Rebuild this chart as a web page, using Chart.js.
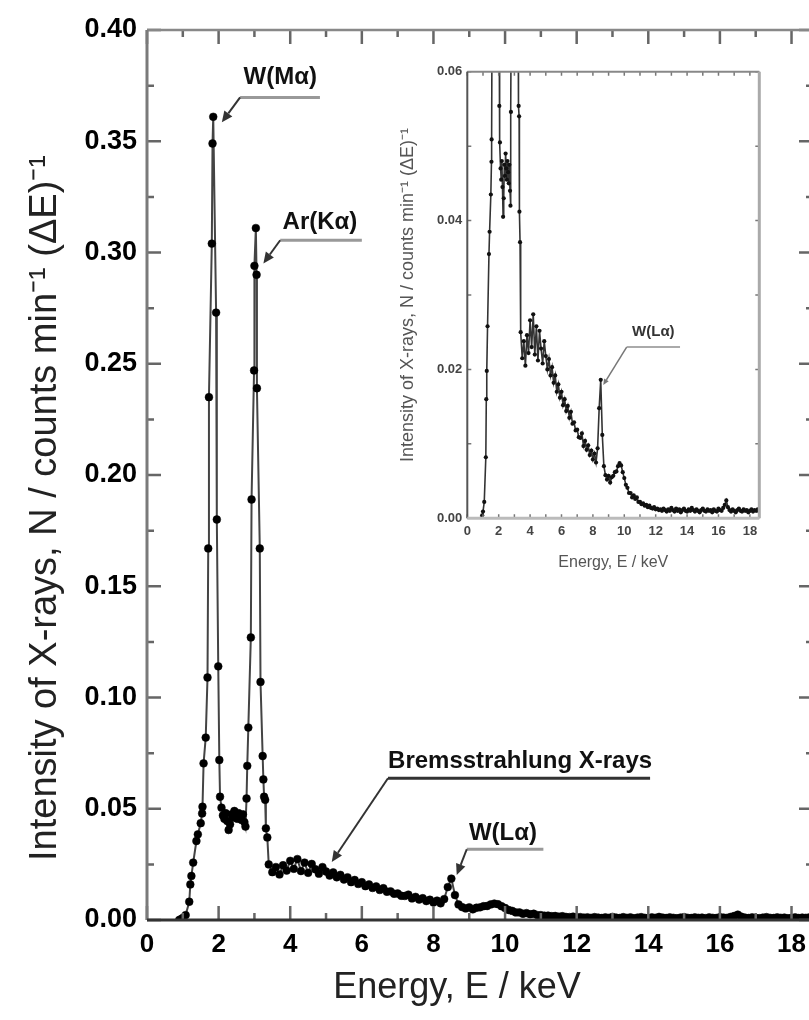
<!DOCTYPE html>
<html>
<head>
<meta charset="utf-8">
<script src="https://cdn.jsdelivr.net/npm/chart.js@4/dist/chart.umd.min.js"></script>
<style>
    html, body { margin: 0; padding: 0; background: #fff; overflow: hidden; width: 809px; height: 1020px; }
    #wrap { position: relative; width: 822px; height: 1020px; }
    #main { position: absolute; left: 0; top: 0; }
    #inset { position: absolute; left: 380px; top: 40px; }
</style>
</head>
<body>
<div id="wrap">
    <canvas id="main" width="822" height="1020"></canvas>
    <canvas id="inset" width="400" height="560"></canvas>
</div>
<script>
// Espectro: zona de picos W(Ma) y Ar(Ka), energia en keV
const peakEnergy = [0.90, 0.95, 1.00, 1.08, 1.18, 1.21, 1.24, 1.29, 1.38, 1.42, 1.50, 1.54, 1.55, 1.58, 1.64, 1.69,
    1.71, 1.73, 1.81, 1.83, 1.85, 1.93, 1.95, 1.99, 2.02, 2.04,
    2.08, 2.12, 2.16, 2.20, 2.24, 2.28, 2.32, 2.36, 2.40, 2.44, 2.48, 2.52, 2.56, 2.60, 2.64, 2.68, 2.72, 2.75,
    2.78, 2.80, 2.83, 2.90, 2.92, 2.99, 3.00, 3.04, 3.06, 3.07, 3.15, 3.17, 3.23, 3.25, 3.27, 3.30, 3.32, 3.36];
const peakIntensity = [0.0000, 0.0004, 0.0009, 0.0022, 0.0082, 0.0160, 0.0198, 0.0258, 0.0355, 0.0385, 0.0435, 0.0479, 0.0509, 0.0704, 0.0820, 0.109,
    0.167, 0.235, 0.304, 0.349, 0.361, 0.273, 0.180, 0.114, 0.0719, 0.0554,
    0.0505, 0.0470, 0.0455, 0.0480, 0.0445, 0.0405, 0.0430, 0.0475, 0.0460, 0.0490, 0.0470, 0.0455, 0.0480, 0.0465, 0.0450, 0.0475, 0.0440, 0.0420,
    0.0546, 0.0693, 0.0865, 0.127, 0.189, 0.247, 0.294, 0.311, 0.290, 0.239, 0.167, 0.107, 0.0737, 0.0632, 0.0554, 0.0540, 0.0412, 0.0371];

// Espectro: fondo de Bremsstrahlung y W(La)
const tailEnergy = [3.4, 3.5, 3.6, 3.7, 3.8, 3.9, 4.0, 4.1, 4.2, 4.3, 4.4, 4.5, 4.6, 4.7, 4.8, 4.9,
    5.0, 5.1, 5.2, 5.3, 5.4, 5.5, 5.6, 5.7, 5.8, 5.9, 6.0, 6.1, 6.2, 6.3, 6.4, 6.5, 6.6, 6.7, 6.8, 6.9,
    7.0, 7.1, 7.2, 7.3, 7.4, 7.5, 7.6, 7.7, 7.8, 7.9, 8.0, 8.1, 8.2, 8.3, 8.4, 8.5, 8.6, 8.7, 8.8, 8.9,
    9.0, 9.1, 9.2, 9.3, 9.4, 9.5, 9.6, 9.7, 9.8, 9.9, 10.0, 10.1, 10.2, 10.3, 10.4, 10.5, 10.6, 10.7, 10.8, 10.9,
    11.0, 11.1, 11.2, 11.3, 11.4, 11.5, 11.6, 11.7, 11.8, 11.9, 12.0, 12.1, 12.2, 12.3, 12.4, 12.5, 12.6, 12.7, 12.8, 12.9,
    13.0, 13.1, 13.2, 13.3, 13.4, 13.5, 13.6, 13.7, 13.8, 13.9, 14.0, 14.1, 14.2, 14.3, 14.4, 14.5, 14.6, 14.7, 14.8, 14.9,
    15.0, 15.1, 15.2, 15.3, 15.4, 15.5, 15.6, 15.7, 15.8, 15.9, 16.0, 16.1, 16.2, 16.3, 16.4, 16.5, 16.6, 16.7, 16.8, 16.9,
    17.0, 17.1, 17.2, 17.3, 17.4, 17.5, 17.6, 17.7, 17.8, 17.9, 18.0, 18.1, 18.2, 18.3, 18.4, 18.5, 18.6];
const tailIntensity = [0.0250, 0.0215, 0.0238, 0.0205, 0.0246, 0.0222, 0.0266, 0.0230, 0.0274, 0.0220, 0.0258, 0.0212, 0.0252, 0.0228, 0.0208, 0.0238,
    0.0218, 0.0200, 0.0214, 0.0192, 0.0203, 0.0182, 0.0192, 0.0170, 0.0180, 0.0162, 0.0170, 0.0152, 0.0160, 0.0144, 0.0151, 0.0135, 0.0143, 0.0127, 0.0129, 0.0118,
    0.0119, 0.0109, 0.0108, 0.0114, 0.0097, 0.0104, 0.0092, 0.0098, 0.0085, 0.0091, 0.0079, 0.0087, 0.0075, 0.0094, 0.0148, 0.0186, 0.0112, 0.0070, 0.0058, 0.0052,
    0.0057, 0.0048, 0.0055, 0.0057, 0.0062, 0.0063, 0.0070, 0.0074, 0.0071, 0.0062, 0.0054, 0.0045, 0.0041, 0.0034, 0.0034, 0.0028, 0.0031, 0.0026, 0.0028, 0.0022,
    0.0022, 0.0019, 0.0020, 0.0017, 0.0018, 0.0015, 0.0017, 0.0014, 0.0013, 0.0015, 0.0012, 0.0013, 0.0011, 0.0012, 0.0010, 0.0013, 0.0011, 0.0009, 0.0012, 0.0010,
    0.0014, 0.0011, 0.0009, 0.0013, 0.0010, 0.0012, 0.0008, 0.0011, 0.0013, 0.0010, 0.0009, 0.0012, 0.0010, 0.0014, 0.0011, 0.0009, 0.0012, 0.0010, 0.0008, 0.0011,
    0.0013, 0.0010, 0.0009, 0.0012, 0.0010, 0.0011, 0.0008, 0.0012, 0.0010, 0.0009, 0.0013, 0.0011, 0.0010, 0.0014, 0.0018, 0.0024, 0.0015, 0.0011, 0.0009, 0.0012,
    0.0010, 0.0008, 0.0011, 0.0013, 0.0010, 0.0009, 0.0012, 0.0010, 0.0011, 0.0008, 0.0010, 0.0012, 0.0009, 0.0011, 0.0010, 0.0012, 0.0009];

const FONT = "'Liberation Sans', Arial, sans-serif";
const X_TITLE = 'Energy, E / keV';
const Y_TITLE = 'Intensity of X-rays, N / counts min\u207B\u00B9 (\u0394E)\u207B\u00B9';

const spectrum = peakEnergy.map((e, i) => ({ x: e, y: peakIntensity[i] }))
    .concat(tailEnergy.map((e, i) => ({ x: e, y: tailIntensity[i] })));

// Marco y marcas hacia dentro en los cuatro lados
function makeFrame(cfg) {
    return {
        id: 'frame',
        afterDatasetsDraw(chart) {
            const { ctx, chartArea: a, scales: { x, y } } = chart;
            ctx.save();
            ctx.strokeStyle = cfg.tickColor;
            ctx.lineWidth = cfg.tickWidth;
            ctx.beginPath();
            for (let i = 0; i * cfg.xMinor <= x.max + 1e-9; i++) {
                const v = i * cfg.xMinor;
                const len = (Math.round(v / cfg.xMajor * 1000) % 1000 === 0) ? cfg.major : cfg.minor;
                const px = x.getPixelForValue(v);
                ctx.moveTo(px, a.bottom); ctx.lineTo(px, a.bottom - len);
                ctx.moveTo(px, a.top); ctx.lineTo(px, a.top + len);
            }
            for (let i = 0; i * cfg.yMinor <= y.max + 1e-9; i++) {
                const v = i * cfg.yMinor;
                const len = (Math.round(v / cfg.yMajor * 1000) % 1000 === 0) ? cfg.major : cfg.minor;
                const py = y.getPixelForValue(v);
                ctx.moveTo(a.left, py); ctx.lineTo(a.left + len, py);
                ctx.moveTo(a.right, py); ctx.lineTo(a.right - len, py);
            }
            ctx.stroke();

            const side = (s, x1, y1, x2, y2) => {
                ctx.strokeStyle = s[0];
                ctx.lineWidth = s[1];
                ctx.beginPath(); ctx.moveTo(x1, y1); ctx.lineTo(x2, y2); ctx.stroke();
            };
            side(cfg.top, a.left, a.top, a.right, a.top);
            side(cfg.right, a.right, a.top, a.right, a.bottom);
            side(cfg.left, a.left, a.top, a.left, a.bottom);
            side(cfg.bottom, a.left, a.bottom, a.right, a.bottom);
            ctx.restore();
        }
    };
}

// Titulos de ejes colocados a mano (el original no esta centrado)
function makeTitles(cfg) {
    return {
        id: 'titles',
        afterDraw(chart) {
            const ctx = chart.ctx;
            ctx.save();
            ctx.fillStyle = cfg.color;
            ctx.font = cfg.size + 'px ' + FONT;
            ctx.textAlign = 'center';
            ctx.textBaseline = 'middle';
            ctx.fillText(X_TITLE, cfg.x[0], cfg.x[1]);
            ctx.translate(cfg.y[0], cfg.y[1]);
            ctx.rotate(-Math.PI / 2);
            ctx.font = cfg.ySize + 'px ' + FONT;
            ctx.fillText(Y_TITLE, 0, 0);
            ctx.restore();
        }
    };
}

// Etiquetas con subrayado y flecha
function makeCallouts(items) {
    return {
        id: 'callouts',
        afterDatasetsDraw(chart) {
            const { ctx, scales: { x, y } } = chart;
            ctx.save();
            items.forEach(c => {
                const ux1 = x.getPixelForValue(c.under[0]);
                const ux2 = x.getPixelForValue(c.under[1]);
                const uy = y.getPixelForValue(c.under[2]);
                const tx = x.getPixelForValue(c.tip[0]);
                const ty = y.getPixelForValue(c.tip[1]);

                ctx.strokeStyle = c.underColor;
                ctx.lineWidth = c.underWidth;
                ctx.beginPath(); ctx.moveTo(ux1, uy); ctx.lineTo(ux2, uy); ctx.stroke();

                const ang = Math.atan2(ty - uy, tx - ux1);
                const hl = c.head, hw = c.head * 0.45;
                const bx = tx - Math.cos(ang) * hl, by = ty - Math.sin(ang) * hl;
                ctx.strokeStyle = c.leaderColor;
                ctx.lineWidth = c.leaderWidth;
                ctx.beginPath(); ctx.moveTo(ux1, uy); ctx.lineTo(bx, by); ctx.stroke();
                ctx.fillStyle = c.leaderColor;
                ctx.beginPath();
                ctx.moveTo(tx, ty);
                ctx.lineTo(bx + Math.sin(ang) * hw, by - Math.cos(ang) * hw);
                ctx.lineTo(bx - Math.sin(ang) * hw, by + Math.cos(ang) * hw);
                ctx.closePath(); ctx.fill();

                ctx.fillStyle = c.color;
                ctx.font = 'bold ' + c.size + 'px ' + FONT;
                ctx.textAlign = 'center';
                ctx.textBaseline = 'middle';
                ctx.fillText(c.text, x.getPixelForValue(c.at[0]), y.getPixelForValue(c.at[1]));
            });
            ctx.restore();
        }
    };
}

const mainCallouts = [
    { text: 'W(M\u03B1)', at: [3.72, 0.3787], under: [2.60, 4.83, 0.3697], tip: [2.09, 0.3585], size: 24, color: '#111', underColor: '#999', underWidth: 3, leaderColor: '#333', leaderWidth: 2, head: 11 },
    { text: 'Ar(K\u03B1)', at: [4.83, 0.3137], under: [3.72, 6.00, 0.3055], tip: [3.25, 0.2951], size: 24, color: '#111', underColor: '#999', underWidth: 3, leaderColor: '#333', leaderWidth: 2, head: 11 },
    { text: 'Bremsstrahlung X-rays', at: [10.42, 0.0711], under: [6.73, 14.05, 0.0637], tip: [5.16, 0.0261], size: 24, color: '#111', underColor: '#333', underWidth: 3, leaderColor: '#333', leaderWidth: 2, head: 11 },
    { text: 'W(L\u03B1)', at: [9.94, 0.0391], under: [8.93, 11.07, 0.0318], tip: [8.65, 0.0202], size: 24, color: '#111', underColor: '#999', underWidth: 3, leaderColor: '#333', leaderWidth: 2, head: 11 }
];

const insetCallouts = [
    { text: 'W(L\u03B1)', at: [11.85, 0.0251], under: [10.15, 13.55, 0.0230], tip: [8.66, 0.0179], size: 15, color: '#333', underColor: '#aaa', underWidth: 2, leaderColor: '#777', leaderWidth: 1.5, head: 6 }
];

function axisTicks(size, color, pad) {
    return { color: color, padding: pad, font: { family: FONT, size: size, weight: 'bold' }, maxRotation: 0, autoSkip: false, includeBounds: false };
}

new Chart(document.getElementById('main'), {
    type: 'scatter',
    data: {
        datasets: [{
            data: spectrum,
            showLine: true,
            borderColor: '#444',
            borderWidth: 2,
            pointRadius: 3.9,
            pointBackgroundColor: '#000',
            pointBorderColor: '#000',
            pointBorderWidth: 0.5,
            tension: 0
        }]
    },
    options: {
        responsive: false,
        animation: false,
        events: [],
        layout: { padding: { top: 30, right: 9, left: 0, bottom: 0 } },
        plugins: { legend: { display: false }, tooltip: { enabled: false } },
        scales: {
            x: {
                type: 'linear', min: 0, max: 18.6,
                afterFit(s) { s.height = 100; },
                grid: { display: false, drawTicks: false },
                border: { display: false },
                ticks: { ...axisTicks(26, '#000', 9), stepSize: 2, callback: v => v }
            },
            y: {
                type: 'linear', min: 0, max: 0.4,
                afterFit(s) { s.width = 147; },
                grid: { display: false, drawTicks: false },
                border: { display: false },
                ticks: { ...axisTicks(27, '#000', 10), stepSize: 0.05, callback: v => v.toFixed(2) }
            }
        }
    },
    plugins: [
        makeFrame({ xMajor: 2, xMinor: 1, yMajor: 0.05, yMinor: 0.025, major: 14, minor: 7, tickColor: '#666', tickWidth: 2.5,
            top: ['#888', 2.5], right: ['#888', 2.5], left: ['#7a7a7a', 3], bottom: ['#333', 3] }),
        makeCallouts(mainCallouts),
        makeTitles({ color: '#222', size: 36, ySize: 38, x: [457, 988], y: [46, 508] })
    ]
});

new Chart(document.getElementById('inset'), {
    type: 'scatter',
    data: {
        datasets: [{
            data: spectrum,
            showLine: true,
            borderColor: '#333',
            borderWidth: 1.6,
            pointRadius: 2.1,
            pointBackgroundColor: '#111',
            pointBorderWidth: 0,
            tension: 0,
            clip: 0
        }]
    },
    options: {
        responsive: false,
        animation: false,
        events: [],
        layout: { padding: { top: 31.7, right: 20.7, left: 0, bottom: 0 } },
        plugins: { legend: { display: false }, tooltip: { enabled: false } },
        scales: {
            x: {
                type: 'linear', min: 0, max: 18.6,
                afterFit(s) { s.height = 81.7; },
                grid: { display: false, drawTicks: false },
                border: { display: false },
                ticks: { ...axisTicks(13, '#444', 5), stepSize: 2, callback: v => v },
                title: { display: true, text: X_TITLE, color: '#555', font: { family: FONT, size: 16 }, padding: { top: 0, bottom: 28 } }
            },
            y: {
                type: 'linear', min: 0, max: 0.06,
                afterFit(s) { s.width = 87.3; },
                grid: { display: false, drawTicks: false },
                border: { display: false },
                ticks: { ...axisTicks(13, '#444', 5), stepSize: 0.02, callback: v => v.toFixed(2) },
                title: { display: true, text: Y_TITLE, color: '#555', font: { family: FONT, size: 18 }, padding: { top: 17, bottom: 0 } }
            }
        }
    },
    plugins: [
        makeFrame({ xMajor: 1, xMinor: 1, yMajor: 0.01, yMinor: 0.01, major: 4, minor: 4, tickColor: '#777', tickWidth: 1.5,
            top: ['#888', 2], right: ['#aaa', 3], left: ['#555', 2], bottom: ['#bbb', 3] }),
        makeCallouts(insetCallouts)
    ]
});
</script>
</body>
</html>
